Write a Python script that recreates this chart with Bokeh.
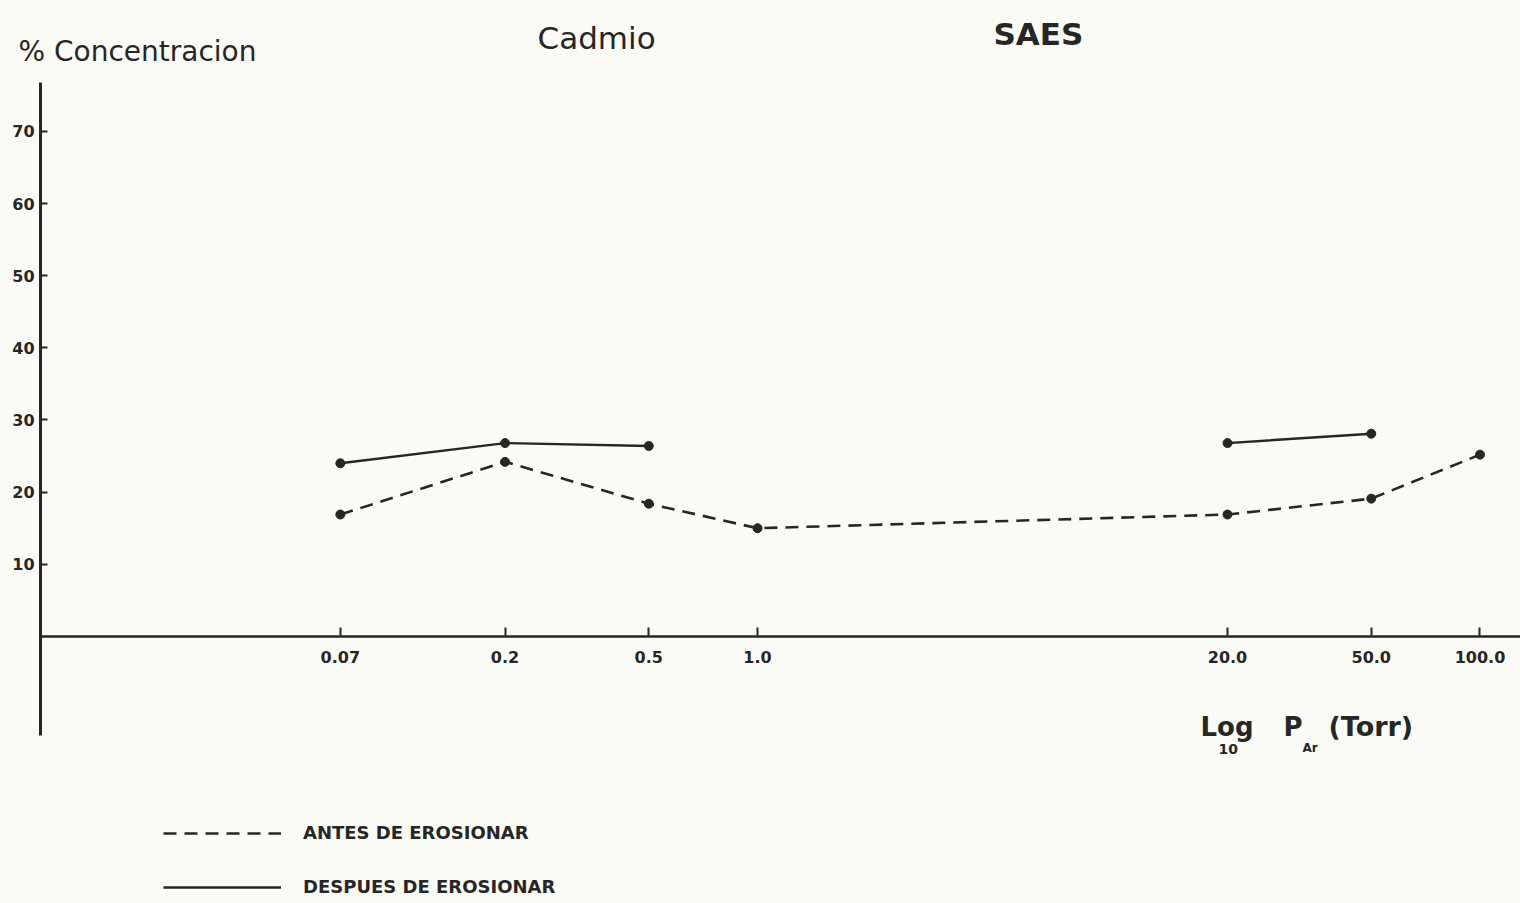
from bokeh.plotting import figure
from bokeh.models import Range1d, FixedTicker, Label, Legend, LegendItem
from bokeh.embed import file_html
from bokeh.resources import INLINE

# ---- data ----
presion = [0.07, 0.2, 0.5, 1.0, 20.0, 50.0, 100.0]
tick_labels = ["0.07", "0.2", "0.5", "1.0", "20.0", "50.0", "100.0"]
antes = [16.9, 24.2, 18.4, 15.0, 16.9, 19.1, 25.2]
despues_presion = [0.07, 0.2, 0.5, 1.0, 20.0, 50.0]
despues = [24.0, 26.8, 26.4, float("nan"), 26.8, 28.1]
y_ticks = [10, 20, 30, 40, 50, 60, 70]

BG = "#fbfbf6"
INK = "#262626"
FONT = "DejaVu Sans"

W, H = 1520, 903
# the frame fills the whole canvas; axes are placed at fixed locations inside it
X_LEFT, X_RIGHT = 0.008022, 129.46
Y_BOTTOM, Y_TOP = -37.0, 88.13
Y_AXIS_AT = 0.010356

p = figure(width=W, height=H, x_axis_type="log",
           x_range=Range1d(X_LEFT, X_RIGHT), y_range=Range1d(Y_BOTTOM, Y_TOP),
           output_backend="svg", toolbar_location=None,
           min_border=0, min_border_left=0, min_border_right=0,
           min_border_top=0, min_border_bottom=0,
           background_fill_color=BG, border_fill_color=BG, outline_line_color=None)
p.grid.visible = False

xa = p.xaxis[0]
xa.fixed_location = 0
xa.bounds = (Y_AXIS_AT, X_RIGHT)
xa.ticker = FixedTicker(ticks=presion, minor_ticks=[])
xa.major_label_overrides = {v: l for v, l in zip(presion, tick_labels)}
xa.axis_line_width = 2.5
xa.axis_line_color = INK
xa.major_tick_in = 9
xa.major_tick_out = 0
xa.major_tick_line_width = 2
xa.major_tick_line_color = INK
xa.minor_tick_line_color = None
xa.major_label_standoff = 15
xa.major_label_text_font = FONT
xa.major_label_text_font_style = "bold"
xa.major_label_text_font_size = "16px"
xa.major_label_text_color = INK

ya = p.yaxis[0]
ya.fixed_location = Y_AXIS_AT
ya.bounds = (-13.72, 76.76)
ya.ticker = FixedTicker(ticks=y_ticks, minor_ticks=[])
ya.axis_line_width = 3
ya.axis_line_color = INK
ya.major_tick_in = 7
ya.major_tick_out = 0
ya.major_tick_line_width = 2
ya.major_tick_line_color = INK
ya.minor_tick_line_color = None
ya.major_label_standoff = 6
ya.major_label_text_font = FONT
ya.major_label_text_font_style = "bold"
ya.major_label_text_font_size = "16px"
ya.major_label_text_color = INK

r1 = p.line(presion, antes, line_color=INK, line_width=2.6, line_dash="13 8")
p.scatter(presion, antes, size=9, fill_color=INK, line_color=INK)
r2 = p.line(despues_presion, despues, line_color=INK, line_width=2.4)
p.scatter(despues_presion, despues, size=9, fill_color=INK, line_color=INK)

legend = Legend(items=[LegendItem(label="ANTES DE EROSIONAR", renderers=[r1]),
                       LegendItem(label="DESPUES DE EROSIONAR", renderers=[r2])],
                location=(163, 903 - 897), glyph_width=118, glyph_height=16, label_height=16,
                spacing=33, label_standoff=22, padding=0, margin=0,
                border_line_color=None, background_fill_alpha=0,
                label_text_font=FONT, label_text_font_style="bold",
                label_text_font_size="18px", label_text_color=INK)
p.add_layout(legend)

def lab(text, x, y, size, style="normal"):
    # x, y: pixel position from the canvas' top-left (baseline-left of the text)
    p.add_layout(Label(x=x, y=H - y, x_units="screen", y_units="screen", text=text,
                       text_font=FONT, text_font_size=size, text_font_style=style,
                       text_color=INK, text_baseline="alphabetic", text_align="left"))

lab("% Concentracion", 18, 51, "28px")
lab("Cadmio", 537, 37, "31px")
lab("SAES", 993, 33, "31px", "bold")
lab("Log", 1200, 726, "26px", "bold")
lab("10", 1218, 748, "14px", "bold")
lab("P", 1283, 726, "26px", "bold")
lab("Ar", 1302, 747, "12px", "bold")
lab("(Torr)", 1328, 726, "27px", "bold")

open("out.html", "w").write(file_html(p, INLINE))
